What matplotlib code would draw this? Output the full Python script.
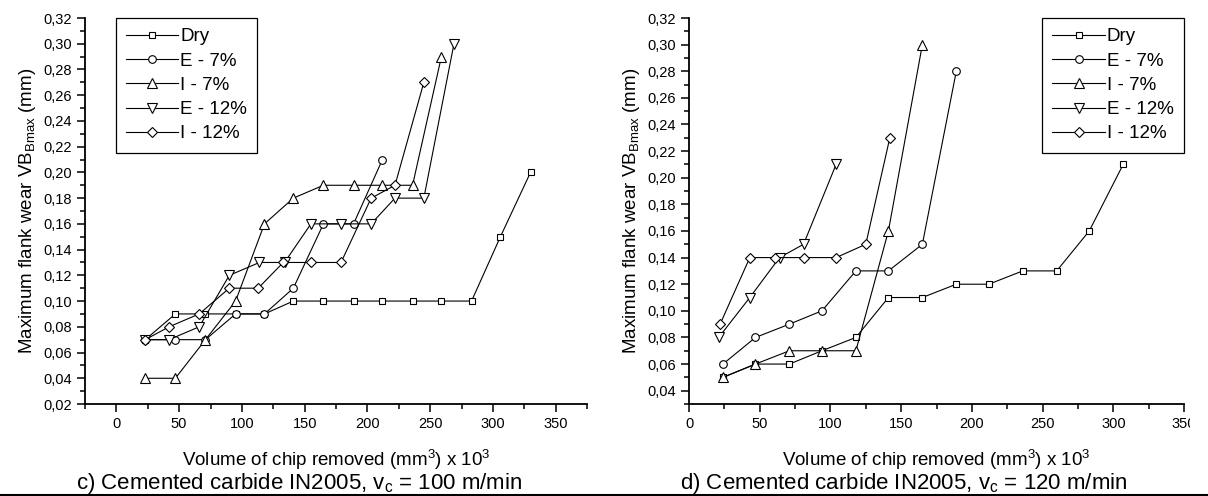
"""Tool wear curves for cemented carbide IN2005 at two cutting speeds."""

import matplotlib

matplotlib.use("Agg")
import matplotlib.pyplot as plt
from matplotlib.lines import Line2D
from matplotlib.ticker import FuncFormatter, MultipleLocator
from matplotlib.transforms import Bbox, TransformedBbox

plt.rcParams["font.family"] = ["Liberation Sans", "DejaVu Sans"]
plt.rcParams["mathtext.default"] = "regular"

SERIES = ["Dry", "E - 7%", "I - 7%", "E - 12%", "I - 12%"]
MARKERS = {"Dry": ("s", 5.0), "E - 7%": ("o", 5.5), "I - 7%": ("^", 7.0),
           "E - 12%": ("v", 7.0), "I - 12%": ("D", 5.0)}

# c) vc = 100 m/min
c_dry_x = [23, 47, 71, 95, 118, 141, 165, 189, 212, 236, 259, 283, 306, 330]
c_dry_y = [0.07, 0.09, 0.09, 0.09, 0.09, 0.10, 0.10, 0.10, 0.10, 0.10, 0.10, 0.10, 0.15, 0.20]
c_e7_x = [23, 47, 71, 95, 118, 141, 165, 189, 212]
c_e7_y = [0.07, 0.07, 0.07, 0.09, 0.09, 0.11, 0.16, 0.16, 0.21]
c_i7_x = [23, 47, 71, 95, 118, 141, 165, 189, 212, 236, 259]
c_i7_y = [0.04, 0.04, 0.07, 0.10, 0.16, 0.18, 0.19, 0.19, 0.19, 0.19, 0.29]
c_e12_x = [23, 42, 66, 90, 114, 134, 155, 179, 203, 222, 245, 269]
c_e12_y = [0.07, 0.07, 0.08, 0.12, 0.13, 0.13, 0.16, 0.16, 0.16, 0.18, 0.18, 0.30]
c_i12_x = [23, 42, 66, 90, 113, 133, 155, 179, 203, 222, 245]
c_i12_y = [0.07, 0.08, 0.09, 0.11, 0.11, 0.13, 0.13, 0.13, 0.18, 0.19, 0.27]

# d) vc = 120 m/min
d_dry_x = [24, 47, 71, 94, 118, 141, 165, 189, 212, 236, 260, 283, 307]
d_dry_y = [0.05, 0.06, 0.06, 0.07, 0.08, 0.11, 0.11, 0.12, 0.12, 0.13, 0.13, 0.16, 0.21]
d_e7_x = [24, 47, 71, 94, 118, 141, 165, 189]
d_e7_y = [0.06, 0.08, 0.09, 0.10, 0.13, 0.13, 0.15, 0.28]
d_i7_x = [24, 47, 71, 94, 118, 141, 165]
d_i7_y = [0.05, 0.06, 0.07, 0.07, 0.07, 0.16, 0.30]
d_e12_x = [21, 43, 64, 81, 104]
d_e12_y = [0.08, 0.11, 0.14, 0.15, 0.21]
d_i12_x = [22, 43, 61, 81, 104, 125, 142]
d_i12_y = [0.09, 0.14, 0.14, 0.14, 0.14, 0.15, 0.23]

PANELS = [
    {
        "data": [(c_dry_x, c_dry_y), (c_e7_x, c_e7_y), (c_i7_x, c_i7_y),
                 (c_e12_x, c_e12_y), (c_i12_x, c_i12_y)],
        "rect": [85 / 1208, 92 / 496, 502 / 1208, 386 / 496],
        "xlim": (-25, 375), "ylim": (0.02, 0.32),
        "legend": dict(loc="upper left", bbox_to_anchor=(0.061, 1.0)),
        "caption": "c) Cemented carbide IN2005, v$_c$ = 100 m/min",
        "caption_x": 76 / 1208,
    },
    {
        "data": [(d_dry_x, d_dry_y), (d_e7_x, d_e7_y), (d_i7_x, d_i7_y),
                 (d_e12_x, d_e12_y), (d_i12_x, d_i12_y)],
        "rect": [689 / 1208, 92 / 496, 495 / 1208, 386 / 496],
        "xlim": (0, 350), "ylim": (0.03, 0.32),
        "legend": dict(loc="upper right", bbox_to_anchor=(1.0, 1.0)),
        "caption": "d) Cemented carbide IN2005, v$_c$ = 120 m/min",
        "caption_x": 680 / 1208,
    },
]

comma = FuncFormatter(lambda v, _: f"{v:.2f}".replace(".", ","))

fig = plt.figure(figsize=(12.08, 4.96), dpi=100)
axes = []

for panel in PANELS:
    ax = fig.add_axes(panel["rect"])
    axes.append(ax)
    for name, (xs, ys) in zip(SERIES, panel["data"]):
        marker, size = MARKERS[name]
        ax.plot(xs, ys, color="black", linewidth=0.8, marker=marker, markersize=size,
                markerfacecolor="white", markeredgecolor="black", markeredgewidth=0.8,
                label=name)
    ax.set_xlim(*panel["xlim"])
    ax.set_ylim(*panel["ylim"])
    ax.xaxis.set_major_locator(MultipleLocator(50))
    ax.xaxis.set_minor_locator(MultipleLocator(25))
    ax.yaxis.set_major_locator(MultipleLocator(0.02))
    ax.yaxis.set_minor_locator(MultipleLocator(0.01))
    ax.yaxis.set_major_formatter(comma)
    ax.spines[["top", "right"]].set_visible(False)
    for side in ("left", "bottom"):
        ax.spines[side].set_linewidth(1.3)
    ax.tick_params(which="major", direction="out", length=6, width=1.1, labelsize=10.5)
    ax.tick_params(which="minor", direction="out", length=3.5, width=1.1)
    ax.set_ylabel("Maximum flank wear VB$_{Bmax}$ (mm)", fontsize=13.5)
    ax.set_xlabel("Volume of chip removed (mm$^3$) x 10$^3$", fontsize=13.5, labelpad=12)

    leg = ax.legend(fontsize=13.5, frameon=True, fancybox=False, framealpha=1,
                    edgecolor="black", borderaxespad=0, handlelength=2.8,
                    handletextpad=0.1, borderpad=0.55, labelspacing=0.38,
                    **panel["legend"])
    leg.get_frame().set_linewidth(0.9)

    fig.text(panel["caption_x"], 7 / 496, panel["caption"], fontsize=16, va="baseline")

fig.add_artist(Line2D([0, 1], [1.5 / 496, 1.5 / 496], transform=fig.transFigure,
                      color="black", linewidth=2.2))

# the right-hand "350" is cut off at the edge in the source figure
fig.canvas.draw()
clip = TransformedBbox(Bbox([[0, 0], [1190 / 1208, 1]]), fig.transFigure)
for label in axes[1].get_xticklabels():
    label.set_clip_box(clip)
    label.set_clip_on(True)

fig.savefig("out.png", dpi=100)
